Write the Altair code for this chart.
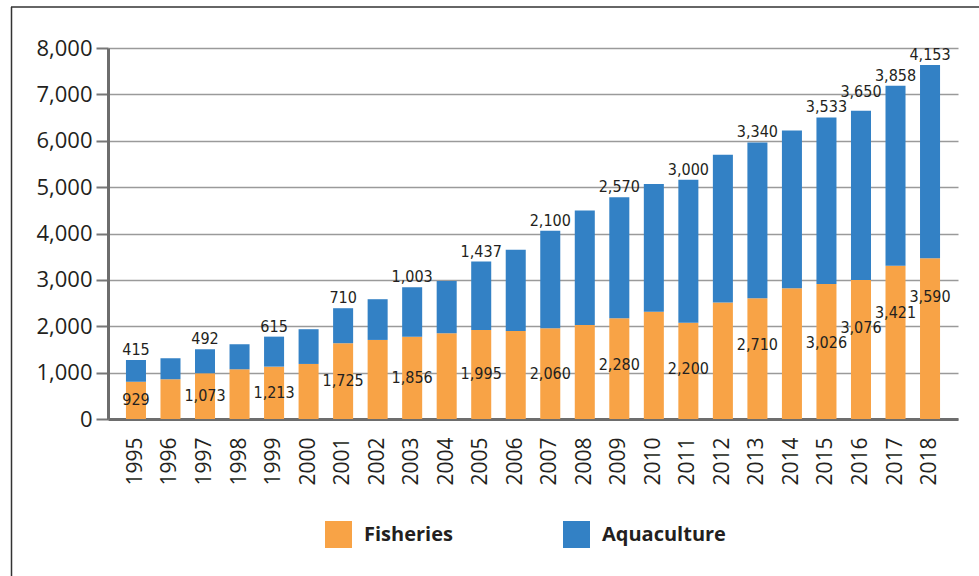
import altair as alt
import pandas as pd

# ---- data ----
years = [str(y) for y in range(1995, 2019)]
fisheries = [805, 857, 986, 1072, 1129, 1187, 1634, 1705, 1776, 1849, 1921, 1899,
             1957, 2028, 2173, 2315, 2078, 2510, 2605, 2820, 2913, 3000, 3302, 3468]
aquaculture = [468, 453, 518, 540, 647, 749, 755, 878, 1066, 1129, 1474, 1748,
               2100, 2467, 2611, 2750, 3079, 3187, 3358, 3402, 3589, 3647, 3884, 4165]
fish_labels = [929, None, 1073, None, 1213, None, 1725, None, 1856, None, 1995, None,
               2060, None, 2280, None, 2200, None, 2710, None, 3026, 3076, 3421, 3590]
aqua_labels = [415, None, 492, None, 615, None, 710, None, 1003, None, 1437, None,
               2100, None, 2570, None, 3000, None, 3340, None, 3533, 3650, 3858, 4153]
series = ["Fisheries", "Aquaculture"]
colors = ["#F8A346", "#3381C5"]

FONT = "Open Sans"
LABEL_FONT = "Liberation Sans Narrow, Arial Narrow, DejaVu Sans Condensed, sans-serif"

bars_df = pd.DataFrame(
    [{"year": y, "series": "Fisheries", "value": f, "ord": 0} for y, f in zip(years, fisheries)]
    + [{"year": y, "series": "Aquaculture", "value": a, "ord": 1} for y, a in zip(years, aquaculture)]
)
lab_df = pd.DataFrame({
    "year": years,
    "fish": fisheries,
    "total": [f + a for f, a in zip(fisheries, aquaculture)],
    "fish_label": fish_labels,
    "aqua_label": aqua_labels,
})

xenc = alt.X("year:N", sort=years,
             scale=alt.Scale(paddingInner=0.42, paddingOuter=0.52),
             axis=alt.Axis(title=None, labelAngle=270, labelFont=FONT, labelFontSize=21,
                           labelColor="#231f20", ticks=False, tickSize=0, labelPadding=18,
                           domainColor="#6d6d6d", domainWidth=3, grid=False))
yscale = alt.Scale(domain=[0, 8000], nice=False)

bars = alt.Chart(bars_df).mark_bar().encode(
    x=xenc,
    y=alt.Y("value:Q", stack="zero", scale=yscale,
            axis=alt.Axis(title=None, values=list(range(0, 8001, 1000)), format=",.0f",
                          labelFont=FONT, labelFontSize=22, labelColor="#231f20",
                          labelPadding=4, tickSize=12, tickWidth=2, tickColor="#777777",
                          domainColor="#6d6d6d", domainWidth=3,
                          grid=True, gridColor="#9a9a9a", gridWidth=1.5)),
    color=alt.Color("series:N", scale=alt.Scale(domain=series, range=colors),
                    legend=alt.Legend(title=None, orient="none", legendX=217, legendY=473,
                                      direction="horizontal", symbolType="square",
                                      symbolSize=729, symbolStrokeWidth=0, labelFont=FONT,
                                      labelFontSize=20, labelFontWeight="bold",
                                      labelColor="#231f20", labelOffset=12,
                                      columnPadding=110, padding=0)),
    order=alt.Order("ord:Q", sort="ascending"),
)

# label layout: consecutive labelled years form a cluster whose labels step upward
lab_base = (
    alt.Chart(lab_df)
    .transform_filter("isValid(datum.fish_label)")
    .transform_window(r="row_number()", sort=[alt.SortField("year")])
    .transform_calculate(cid="toNumber(datum.year) - 1995 - datum.r")
    .transform_joinaggregate(n="count()", minfish="min(fish)", mintotal="min(total)",
                             groupby=["cid"])
    .transform_window(p="row_number()", groupby=["cid"], sort=[alt.SortField("year")])
    .transform_calculate(
        fpos="datum.n > 1 ? datum.minfish - 1280 + 330 * (datum.p - 1)"
             " : max(datum.fish / 2, datum.fish - 1000)",
        apos="max(datum.total, datum.mintotal + 330 * (datum.p - 1))",
    )
)

aqua_text = lab_base.mark_text(
    font=LABEL_FONT, fontSize=16, color="#231f20", baseline="bottom", dy=-2
).encode(
    x=alt.X("year:N", sort=years),
    y=alt.Y("apos:Q", scale=yscale),
    text=alt.Text("aqua_label:Q", format=",.0f"),
)

fish_text = lab_base.mark_text(
    font=LABEL_FONT, fontSize=16, color="#231f20", baseline="middle"
).encode(
    x=alt.X("year:N", sort=years),
    y=alt.Y("fpos:Q", scale=yscale),
    text=alt.Text("fish_label:Q", format=",.0f"),
)

one = pd.DataFrame({"a": [0]})
frame_left = alt.Chart(one).mark_rule(color="#333333", strokeWidth=1.5).encode(
    x=alt.value(-96.5), y=alt.value(-41), y2=alt.value(528))
frame_top = alt.Chart(one).mark_rule(color="#333333", strokeWidth=1.5).encode(
    x=alt.value(-97), x2=alt.value(871), y=alt.value(-41))

chart = alt.layer(bars, aqua_text, fish_text, frame_left, frame_top).properties(
    width=850, height=371,
    autosize=alt.AutoSizeParams(type="none"),
    padding={"left": 108, "top": 48, "right": 21, "bottom": 157},
    background="white",
).configure_view(stroke="transparent")

chart.save("out.html", embed_options={"renderer": "svg", "actions": False})
